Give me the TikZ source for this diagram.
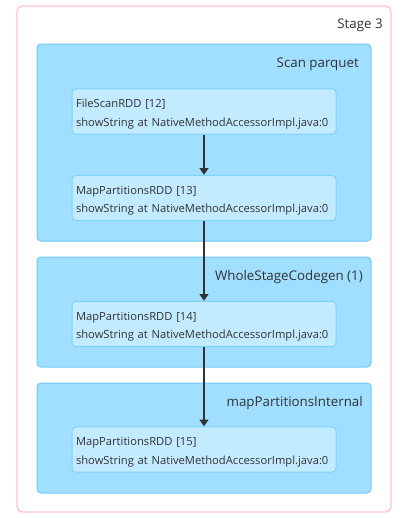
\documentclass[tikz,border=0pt]{standalone}
\usepackage{fontspec}
\setmainfont{Open Sans}
\usetikzlibrary{arrows.meta}
\definecolor{stagestroke}{HTML}{FFC4D0}
\definecolor{clusterfill}{HTML}{A0DFFF}
\definecolor{clusterstroke}{HTML}{6CCBF8}
\definecolor{nodefill}{HTML}{C3EBFF}
\definecolor{nodestroke}{HTML}{7FD2F8}
\definecolor{textcol}{HTML}{333333}
\definecolor{edgecol}{HTML}{333333}
\tikzset{
  stagebox/.style={draw=stagestroke, line width=1pt, fill=white, rounded corners=4pt},
  clusterbox/.style={draw=clusterstroke, line width=0.75pt, fill=clusterfill, rounded corners=3pt},
  clusterlabel/.style={anchor=east, inner sep=0pt, text=textcol, font=\fontsize{10}{12}\selectfont},
  rdd/.style={draw=nodestroke, line width=0.75pt, fill=nodefill, rounded corners=3pt,
    minimum width=198pt, minimum height=34pt, text width=192pt, align=left,
    inner xsep=3pt, inner ysep=0pt, text=textcol, font=\fontsize{8.4}{14}\selectfont,
    execute at begin node={\rule{0pt}{10.5pt}}},
  arr/.style={draw=edgecol, line width=1.3pt, -{Triangle[length=5pt,width=6.5pt]}},
}
\begin{document}
\begin{tikzpicture}[x=0.75pt,y=-0.75pt]
\useasboundingbox (0,0) rectangle (401,518);
\draw[stagebox] (17,6) rectangle (391,512);
\node[clusterlabel] (stagelabel) at (383,25) {Stage 3};
% clusters
\draw[clusterbox] (37,44) rectangle (371,241);
\node[clusterlabel] (scanlabel) at (359,64) {Scan parquet};
\draw[clusterbox] (37,257) rectangle (371,367);
\node[clusterlabel] (wsclabel) at (363,277) {WholeStageCodegen (1)};
\draw[clusterbox] (37,383) rectangle (371,493);
\node[clusterlabel] (mpilabel) at (363,403) {mapPartitionsInternal};
% rdd nodes
\node[rdd] (r12) at (204,111.5) {FileScanRDD [12]\\showString at NativeMethodAccessorImpl.java:0};
\node[rdd] (r13) at (204,198) {MapPartitionsRDD [13]\\showString at NativeMethodAccessorImpl.java:0};
\node[rdd] (r14) at (204,324) {MapPartitionsRDD [14]\\showString at NativeMethodAccessorImpl.java:0};
\node[rdd] (r15) at (204,449.5) {MapPartitionsRDD [15]\\showString at NativeMethodAccessorImpl.java:0};
% edges
\draw[arr] (r12.south) -- (r13.north);
\draw[arr] (r13.south) -- (r14.north);
\draw[arr] (r14.south) -- (r15.north);
\end{tikzpicture}
\end{document}
